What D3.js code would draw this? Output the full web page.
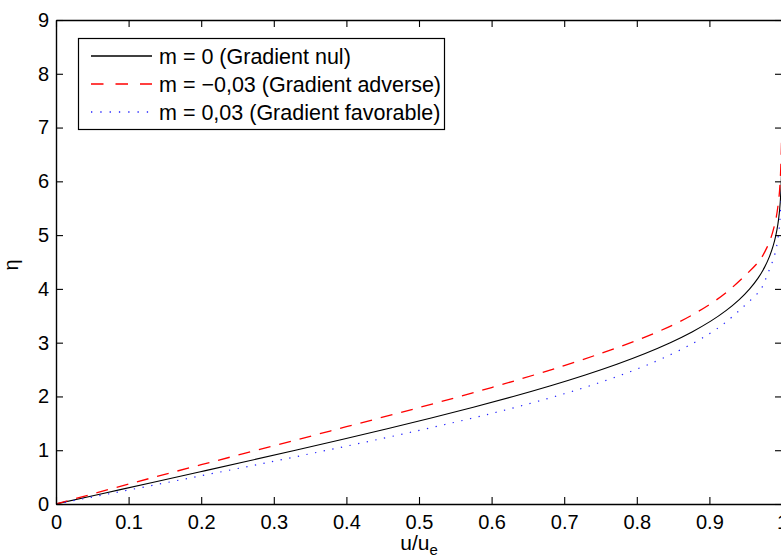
<!DOCTYPE html>
<html><head><meta charset="utf-8">
<script src="https://cdn.jsdelivr.net/npm/d3@7"></script>
<style>body{margin:0;background:#fff}svg{display:block}text{font-family:"Liberation Sans",Arial,sans-serif}</style>
</head><body><svg id="c" width="781" height="559"></svg>
<script>
// Data: eta (y) vs u/ue (x)
const etaNul = [0,0.2,0.4,0.6,0.8,1.0,1.2,1.4,1.6,1.8,2.0,2.2,2.4,2.6,2.8,3.0,3.2,3.4,3.6,3.8,4.0,4.2,4.4,4.6,4.8,5.0,5.2,5.4,5.6,5.8,6.0,6.5,7.0,8.0,9.0];
const uNul   = [0,0.0664,0.1328,0.1989,0.2647,0.3298,0.3938,0.4563,0.5168,0.5748,0.6298,0.6813,0.7290,0.7725,0.8115,0.8461,0.8761,0.9018,0.9233,0.9411,0.9555,0.9670,0.9759,0.9827,0.9878,0.9916,0.9943,0.9962,0.9975,0.9984,0.9990,0.9997,0.9999,1.0,1.0];
const uAdv   = [0,0.1,0.2,0.3,0.4,0.5,0.6,0.7,0.8,0.85,0.9,0.95,0.97,0.98,0.99,0.995,0.998,0.999,1.0,1.0];
const etaAdv = [0,0.370,0.731,1.082,1.437,1.793,2.166,2.574,3.043,3.330,3.708,4.258,4.547,4.79,5.20,5.60,6.15,6.55,7.5,9.0];
const uFav   = [0,0.1,0.2,0.3,0.4,0.5,0.6,0.7,0.8,0.85,0.9,0.95,0.97,0.98,0.99,0.995,0.998,0.999,1.0,1.0];
const etaFav = [0,0.260,0.525,0.795,1.076,1.368,1.684,2.050,2.508,2.800,3.166,3.708,3.978,4.271,4.640,4.990,5.462,5.67,6.8,9.0];
const xTicks = [0,0.1,0.2,0.3,0.4,0.5,0.6,0.7,0.8,0.9,1];
const yTicks = [0,1,2,3,4,5,6,7,8,9];
const legendLabels = ["m = 0 (Gradient nul)","m = \u22120,03 (Gradient adverse)","m = 0,03 (Gradient favorable)"];

const svg = d3.select("#c");
const L=56, R=782, T=20, B=504;
const x = d3.scaleLinear().domain([0,1]).range([L,R]);
const y = d3.scaleLinear().domain([0,9]).range([B,T]);

svg.append("defs").append("clipPath").attr("id","clip").append("rect")
  .attr("x",L).attr("y",T).attr("width",R-L).attr("height",B-T);

const series = [
  {u:uNul, e:etaNul, color:"#000000", dash:null, ldash:null, w:1.1},
  {u:uAdv, e:etaAdv, color:"#ff0000", dash:"12,9", ldash:"12.5,12", w:1.3},
  {u:uFav, e:etaFav, color:"#2020ff", dash:"1.3,7.5", ldash:"1.3,8", w:1.2}
];
const line = d3.line().x(d=>x(d[0])).y(d=>y(d[1])).curve(d3.curveMonotoneY);
const g = svg.append("g").attr("clip-path","url(#clip)");
series.forEach(s=>{
  g.append("path").datum(s.u.map((v,i)=>[v,s.e[i]]))
   .attr("d",line).attr("fill","none").attr("stroke",s.color)
   .attr("stroke-width",s.w).attr("stroke-dasharray",s.dash);
});

// axes (box with inward ticks)
const fmt = d=> d===0||d===1 ? String(d) : d.toFixed(1);
const axB = d3.axisBottom(x).tickValues(xTicks).tickSizeInner(-7).tickSizeOuter(0).tickPadding(11).tickFormat(fmt);
const axT = d3.axisTop(x).tickValues(xTicks).tickSizeInner(-7).tickSizeOuter(0).tickFormat("");
const axL = d3.axisLeft(y).tickValues(yTicks).tickSizeInner(-7).tickSizeOuter(0).tickPadding(7).tickFormat(d3.format("d"));
const axR = d3.axisRight(y).tickValues(yTicks).tickSizeInner(-7).tickSizeOuter(0).tickFormat("");
function style(sel){
  sel.attr("font-size",20).attr("font-family","Liberation Sans, Arial, sans-serif");
  sel.select(".domain").attr("stroke","#000").attr("stroke-width",1.4);
  sel.selectAll(".tick line").attr("stroke","#000").attr("stroke-width",1.1);
  sel.selectAll("text").attr("font-size",20).attr("fill","#000");
}
svg.append("g").attr("transform",`translate(0,${B})`).call(axB).call(style);
svg.append("g").attr("transform",`translate(0,${T})`).call(axT).call(style);
svg.append("g").attr("transform",`translate(${L},0)`).call(axL).call(style);
svg.append("g").attr("transform",`translate(${R},0)`).call(axR).call(style);

// axis labels
const xl = svg.append("text").attr("x",419).attr("y",550).attr("text-anchor","middle").attr("font-size",21);
xl.append("tspan").text("u/u");
xl.append("tspan").attr("dy",5).attr("font-size",15).text("e");
svg.append("text").attr("transform","translate(18,265) rotate(-90)").attr("text-anchor","middle")
  .attr("font-size",20).text("\u03B7");

// legend
const lg = svg.append("g");
lg.append("rect").attr("x",78.5).attr("y",38.5).attr("width",366).attr("height",91)
  .attr("fill","#fff").attr("stroke","#000").attr("stroke-width",1.2);
const rows=[56,84,112];
series.forEach((s,i)=>{
  lg.append("path").attr("d",`M91,${rows[i]}H152`).attr("fill","none")
    .attr("stroke",s.color).attr("stroke-width",1.4).attr("stroke-dasharray",s.ldash);
  lg.append("text").attr("x",159).attr("y",rows[i]).attr("dy","0.36em").attr("font-size",21.5).text(legendLabels[i]);
});
</script></body></html>
